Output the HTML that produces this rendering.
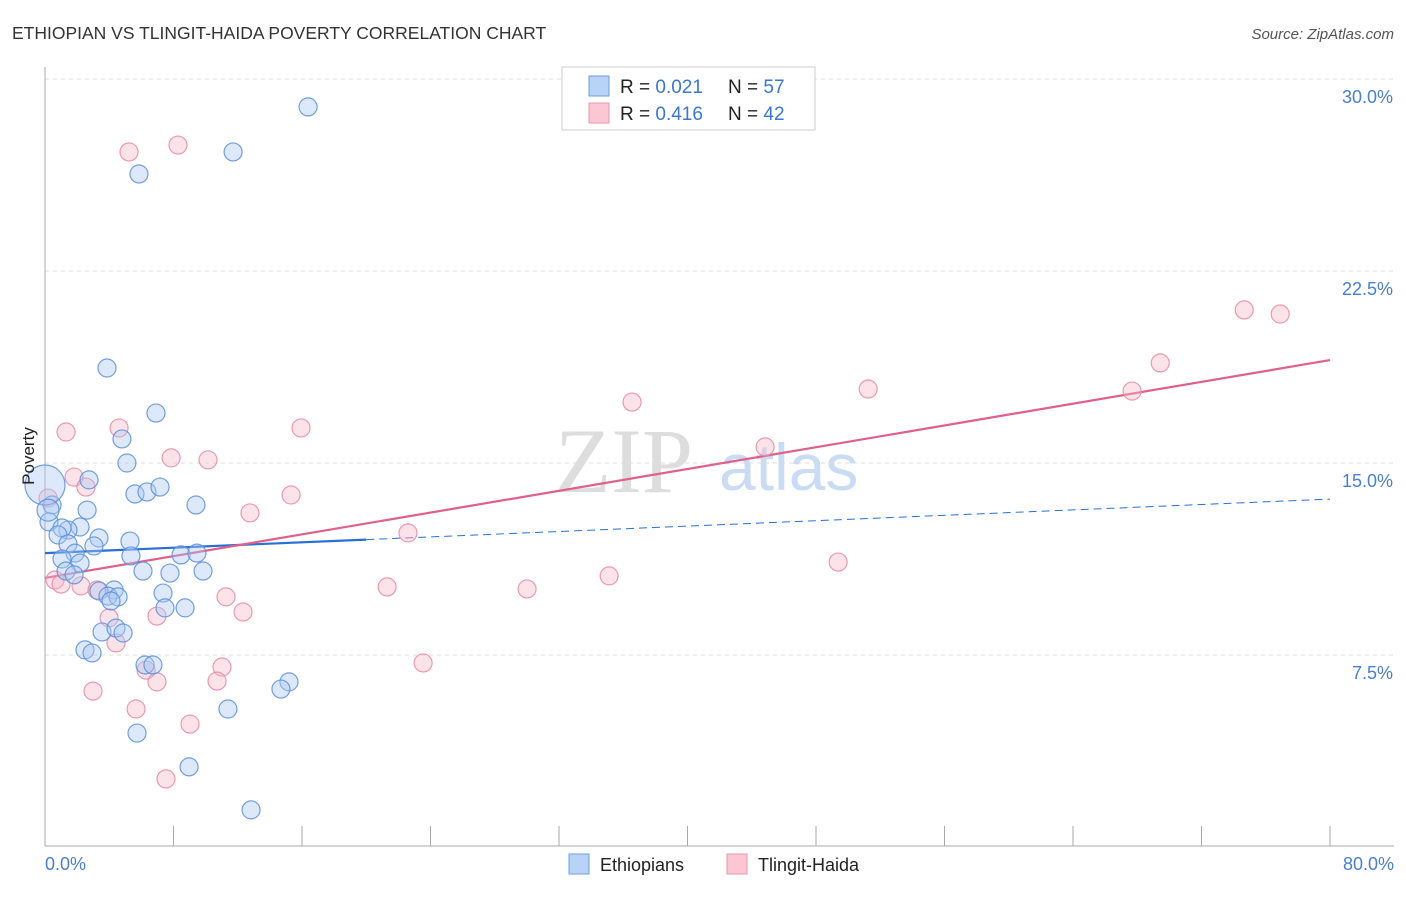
<!DOCTYPE html>
<html><head><meta charset="utf-8"><style>
body{margin:0;background:#fff;font-family:"Liberation Sans",sans-serif}
</style></head><body>
<svg width="1406" height="892" viewBox="0 0 1406 892" xmlns="http://www.w3.org/2000/svg">
<text x="12" y="39" font-size="17.5" fill="#333">ETHIOPIAN VS TLINGIT-HAIDA POVERTY CORRELATION CHART</text>
<text x="1394" y="39" font-size="15" fill="#555" font-style="italic" text-anchor="end">Source: ZipAtlas.com</text>
<g>
<text x="555" y="492" font-size="92" fill="#ddd" font-family="Liberation Serif,serif">ZIP</text>
<text x="719" y="490" font-size="66" fill="#c9dcf3">atlas</text>
</g>
<g id="grid"></g>
<g id="axes"></g>
<g id="trends"></g>
<g id="pts"></g>
<text transform="translate(34,456) rotate(-90)" font-size="17" fill="#222" text-anchor="middle">Poverty</text>
<text x="45" y="870" font-size="18" fill="#4a7fd0">0.0%</text>
<text x="1394" y="870" font-size="18" fill="#4a7fd0" text-anchor="end">80.0%</text>
<g>
<rect x="569" y="854" width="20" height="20" fill="#b8d3f5" stroke="#6f9fdc"/>
<text x="600" y="871" font-size="18" fill="#222">Ethiopians</text>
<rect x="727" y="854" width="20" height="20" fill="#fbc7d5" stroke="#e897ae"/>
<text x="758" y="871" font-size="18" fill="#222">Tlingit-Haida</text>
</g>
<g>
<rect x="562" y="67" width="253" height="63" fill="#fff" stroke="#ccc"/>
<rect x="589" y="76" width="20" height="20" fill="#b8d3f5" stroke="#6f9fdc"/>
<text x="620" y="93" font-size="19" fill="#222">R = <tspan fill="#3a78d0">0.021</tspan></text>
<text x="728" y="93" font-size="19" fill="#222">N = <tspan fill="#3a78d0">57</tspan></text>
<rect x="589" y="103" width="20" height="20" fill="#fbc7d5" stroke="#e897ae"/>
<text x="620" y="120" font-size="19" fill="#222">R = <tspan fill="#3a78d0">0.416</tspan></text>
<text x="728" y="120" font-size="19" fill="#222">N = <tspan fill="#3a78d0">42</tspan></text>
</g>
</svg>
<script>
const yTicks=[7.5,15,22.5,30];
const yTickLabels=["7.5%","15.0%","22.5%","30.0%"];
const xTicks=[0,8,16,24,32,40,48,56,64,72,80];
const ethX=[16.38,11.71,5.85,3.86,6.91,4.79,5.10,2.74,5.60,6.35,7.16,9.40,2.62,0.44,0.25,2.18,1.43,1.06,0.81,3.36,5.29,3.05,1.43,1.87,1.06,5.35,8.47,9.46,2.18,6.10,7.78,9.84,1.31,1.81,4.30,3.36,3.92,4.55,4.11,7.35,7.47,8.72,3.55,4.42,4.86,2.49,2.93,6.23,6.72,15.19,14.69,11.39,5.73,8.97,12.83,0,0.19];
const ethY=[28.91,27.15,26.29,18.71,16.95,15.94,15.0,14.34,13.79,13.87,14.06,13.36,13.16,13.36,12.70,12.5,12.38,12.46,12.19,12.07,11.95,11.76,11.84,11.48,11.25,11.37,11.41,11.48,11.09,10.78,10.70,10.78,10.78,10.63,10.04,10.0,9.80,9.77,9.61,9.92,9.34,9.34,8.40,8.55,8.36,7.70,7.58,7.11,7.11,6.45,6.17,5.39,4.45,3.13,1.45,14.14,13.16];
const ethR=[9,9,9,9,9,9,9,9,9,9,9,9,9,9,9,9,9,9,9,9,9,9,9,9,9,9,9,9,9,9,9,9,9,9,9,9,9,9,9,9,9,9,9,9,9,9,9,9,9,9,9,9,9,9,9,20,11];
const tliX=[5.23,8.28,74.66,76.90,69.43,67.68,51.25,36.55,1.31,4.61,15.94,7.85,10.15,44.83,1.81,2.55,15.32,12.76,0.19,22.60,0.62,1.0,2.24,21.30,30.01,35.12,49.38,3.24,11.27,12.33,6.97,3.99,4.42,23.54,6.29,6.97,11.02,10.71,2.99,5.67,9.03,7.53];
const tliY=[27.15,27.42,20.98,20.82,18.91,17.81,17.89,17.38,16.21,16.37,16.37,15.20,15.12,15.63,14.45,14.06,13.75,13.05,13.63,12.27,10.43,10.27,10.20,10.16,10.08,10.59,11.13,10.04,9.77,9.18,9.02,8.95,7.97,7.19,6.91,6.45,7.03,6.48,6.09,5.39,4.80,2.66];
const ethTrend=[11.48,13.59];
const tliTrend=[10.51,19.02];
const NS="http://www.w3.org/2000/svg";
const X=v=>45+v*(1285/80);
const Y=v=>847-v*25.6;
function mk(tag,attrs,parent){const e=document.createElementNS(NS,tag);for(const k in attrs)e.setAttribute(k,attrs[k]);document.getElementById(parent).appendChild(e);return e;}
yTicks.forEach((t,i)=>{
  const l=mk('line',{x1:45,x2:1394,y1:Y(t),y2:Y(t),stroke:'#ddd','stroke-dasharray':'4,4'},'grid');
  
  
  const tx=mk('text',{x:1393,y:Y(t)+24,'font-size':18,fill:'#4a7fd0','text-anchor':'end'},'grid');
  tx.textContent=yTickLabels[i];
  
  
});
const ya=mk('line',{x1:45,x2:45,y1:67,y2:846,stroke:'#aaa'},'axes');


const xa=mk('line',{x1:45,x2:1394,y1:846,y2:846,stroke:'#aaa'},'axes');


xTicks.forEach(t=>{
  const l=mk('line',{x1:X(t),x2:X(t),y1:826,y2:846,stroke:'#aaa'},'axes');
  
  
});
function drawPts(xs,ys,rs,fill,stroke,name){
  xs.forEach((x,i)=>{
    const c=mk('circle',{cx:X(x),cy:Y(ys[i]),r:rs?rs[i]:9,fill:fill,'fill-opacity':0.4,stroke:stroke,'stroke-width':1.2,'stroke-opacity':0.85},'pts');
    
    
  });
}
drawPts(tliX,tliY,null,'#f7b9cb','#e88aa6','point-tlingit-haida');
drawPts(ethX,ethY,ethR,'#a9c9f2','#5a8fdb','point-ethiopians');
const ey=x=>ethTrend[0]+(ethTrend[1]-ethTrend[0])*x/80;
const t1=mk('line',{x1:X(0),y1:Y(ey(0)),x2:X(20),y2:Y(ey(20)),stroke:'#2a6fd6','stroke-width':2.2},'trends');


const t2=mk('line',{x1:X(20),y1:Y(ey(20)),x2:X(80),y2:Y(ey(80)),stroke:'#2a6fd6','stroke-width':1,'stroke-dasharray':'8,5'},'trends');


const t3=mk('line',{x1:X(0),y1:Y(tliTrend[0]),x2:X(80),y2:Y(tliTrend[1]),stroke:'#e0608a','stroke-width':2.2},'trends');


</script>
</body></html>
